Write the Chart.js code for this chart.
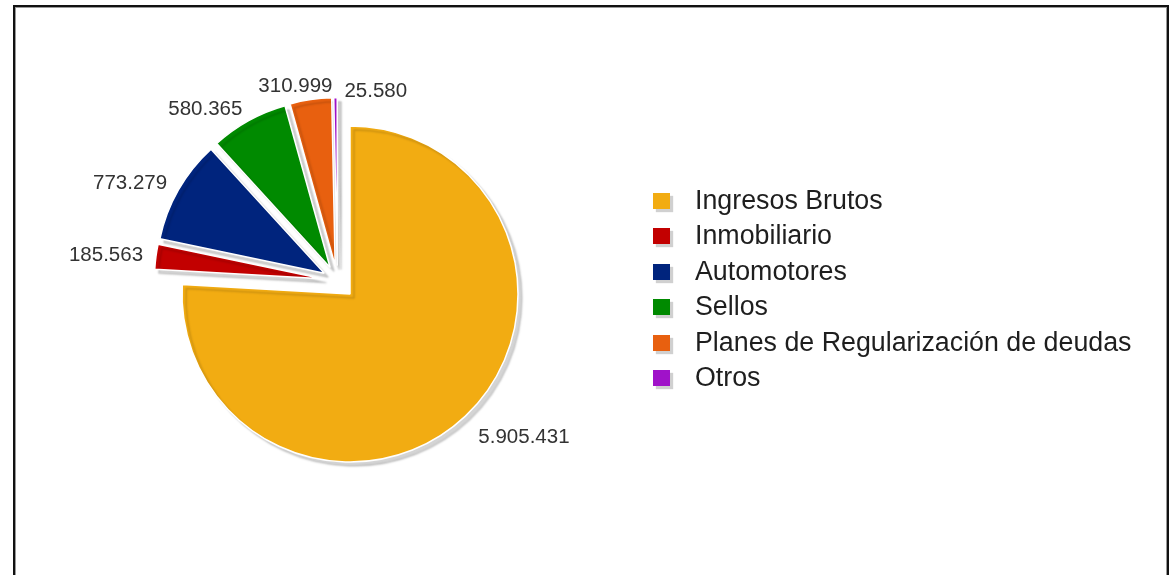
<!DOCTYPE html>
<html>
<head>
<meta charset="utf-8">
<script src="https://cdn.jsdelivr.net/npm/chart.js@4/dist/chart.umd.min.js"></script>
<style>
  html, body { margin: 0; padding: 0; background: #fff; }
  body { width: 1170px; height: 575px; position: relative; overflow: hidden; font-family: "Liberation Sans", Arial, sans-serif; }
  #frame { position: absolute; left: 13px; top: 5px; width: 1156px; height: 600px; box-sizing: border-box;
           border: 2px solid #111; border-bottom: none; box-shadow: inset 1px 1px 0 #999, inset -1px 0 0 #999; }
  #myChart { position: absolute; left: 0; top: 0; }
  #legend { position: absolute; left: 653px; top: 183px; }
  .item { height: 35.4px; line-height: 35.4px; position: relative; white-space: nowrap; }
  .box { position: absolute; left: 0; top: 10px; width: 17px; height: 16px; box-shadow: 3px 3px 1px #d0d0d0; }
  .txt { position: absolute; left: 42px; top: 0; font-size: 26.8px; color: #1e1e1e; }
</style>
</head>
<body>
<div id="frame"></div>
<canvas id="myChart" width="1170" height="575"></canvas>
<div id="legend"></div>
<script>
// Data
var categories = ['Ingresos Brutos', 'Inmobiliario', 'Automotores', 'Sellos', 'Planes de Regularización de deudas', 'Otros'];
var values = [5905431, 185563, 773279, 580365, 310999, 25580];
var valueLabels = ['5.905.431', '185.563', '773.279', '580.365', '310.999', '25.580'];
var colors = ['#F2AC12', '#C20000', '#00247D', '#008A00', '#E8600F', '#A012C9'];
// which slices are pulled out of the pie
var pulled = [false, true, true, true, true, true];

var pieRadius = 168;
var groupShift = 18.4;   // the pulled group moves out together...
var sliceShift = 15;     // ...and each slice a bit more along its own middle
var labelDist = 181;

function sliceOffsets(arcs) {
    var first = -1, last = -1;
    arcs.forEach(function (arc, i) {
        if (pulled[i]) { if (first < 0) first = i; last = i; }
    });
    var gMid = (arcs[first].startAngle + arcs[last].endAngle) / 2;
    return arcs.map(function (arc, i) {
        if (!pulled[i]) return { x: 0, y: 0 };
        var mid = (arc.startAngle + arc.endAngle) / 2;
        return {
            x: Math.cos(gMid) * groupShift + Math.cos(mid) * sliceShift,
            y: Math.sin(gMid) * groupShift + Math.sin(mid) * sliceShift
        };
    });
}

var pieExtras = {
    id: 'pieExtras',
    beforeDatasetDraw: function (chart, args) {
        var ctx = chart.ctx;
        var arcs = args.meta.data;
        var offs = sliceOffsets(arcs);
        arcs.forEach(function (arc, i) {
            arc.x += offs[i].x;
            arc.y += offs[i].y;
        });
        ctx.save();
        ctx.shadowColor = 'rgba(0, 0, 0, 0.17)';
        ctx.shadowOffsetX = 4;
        ctx.shadowOffsetY = 4;
        ctx.shadowBlur = 2;
    },
    afterDatasetDraw: function (chart, args) {
        chart.ctx.restore();
        var arcs = args.meta.data;
        var offs = sliceOffsets(arcs);
        arcs.forEach(function (arc, i) {
            arc.x -= offs[i].x;
            arc.y -= offs[i].y;
        });
    },
    afterDraw: function (chart) {
        var ctx = chart.ctx;
        var arcs = chart.getDatasetMeta(0).data;
        var offs = sliceOffsets(arcs);
        ctx.save();
        ctx.font = '20.5px "Liberation Sans", Arial, sans-serif';
        ctx.fillStyle = '#333';
        ctx.textBaseline = 'middle';
        ctx.textAlign = 'left';
        var boxes = arcs.map(function (arc, i) {
            var mid = (arc.startAngle + arc.endAngle) / 2;
            var dx = Math.cos(mid), dy = Math.sin(mid);
            var ax = arc.x + offs[i].x + dx * labelDist;
            var ay = arc.y + offs[i].y + dy * labelDist;
            var w = ctx.measureText(valueLabels[i]).width;
            var left, y = ay;
            if (dx > 0.3) left = ax;
            else if (dx < -0.3) left = ax - w;
            else left = ax + dx * w / 2 - w / 2;
            // labels on the lower half hang below their point
            if (dy > 0.3) { left += 4; y += 12; }
            return { text: valueLabels[i], left: left, w: w, y: y };
        });
        // move a label to the right (and a little down) if it runs into the one before it
        for (var i = 1; i < boxes.length; i++) {
            var a = boxes[i - 1], b = boxes[i];
            if (Math.abs(a.y - b.y) < 20) {
                var overlap = (a.left + a.w + 4) - b.left;
                if (overlap > 0) {
                    a.left -= 8;
                    b.left += overlap;
                    b.y += 7;
                }
            }
        }
        boxes.forEach(function (b) {
            ctx.fillText(b.text, b.left, b.y);
        });
        ctx.restore();
    }
};

var ctx = document.getElementById('myChart').getContext('2d');
var chart = new Chart(ctx, {
    type: 'pie',
    data: {
        labels: categories,
        datasets: [{
            data: values,
            backgroundColor: colors,
            borderColor: '#ffffff',
            borderWidth: 1.5
        }]
    },
    options: {
        responsive: false,
        animation: false,
        radius: pieRadius,
        layout: { padding: { left: 0, right: 470, top: 13, bottom: 0 } },
        plugins: {
            legend: { display: false },
            tooltip: { enabled: false }
        }
    },
    plugins: [pieExtras]
});

// legend
var legend = document.getElementById('legend');
categories.forEach(function (c, i) {
    var item = document.createElement('div');
    item.className = 'item';
    item.innerHTML = '<span class="box" style="background:' + colors[i] + '"></span><span class="txt">' + c + '</span>';
    legend.appendChild(item);
});
</script>
</body>
</html>
